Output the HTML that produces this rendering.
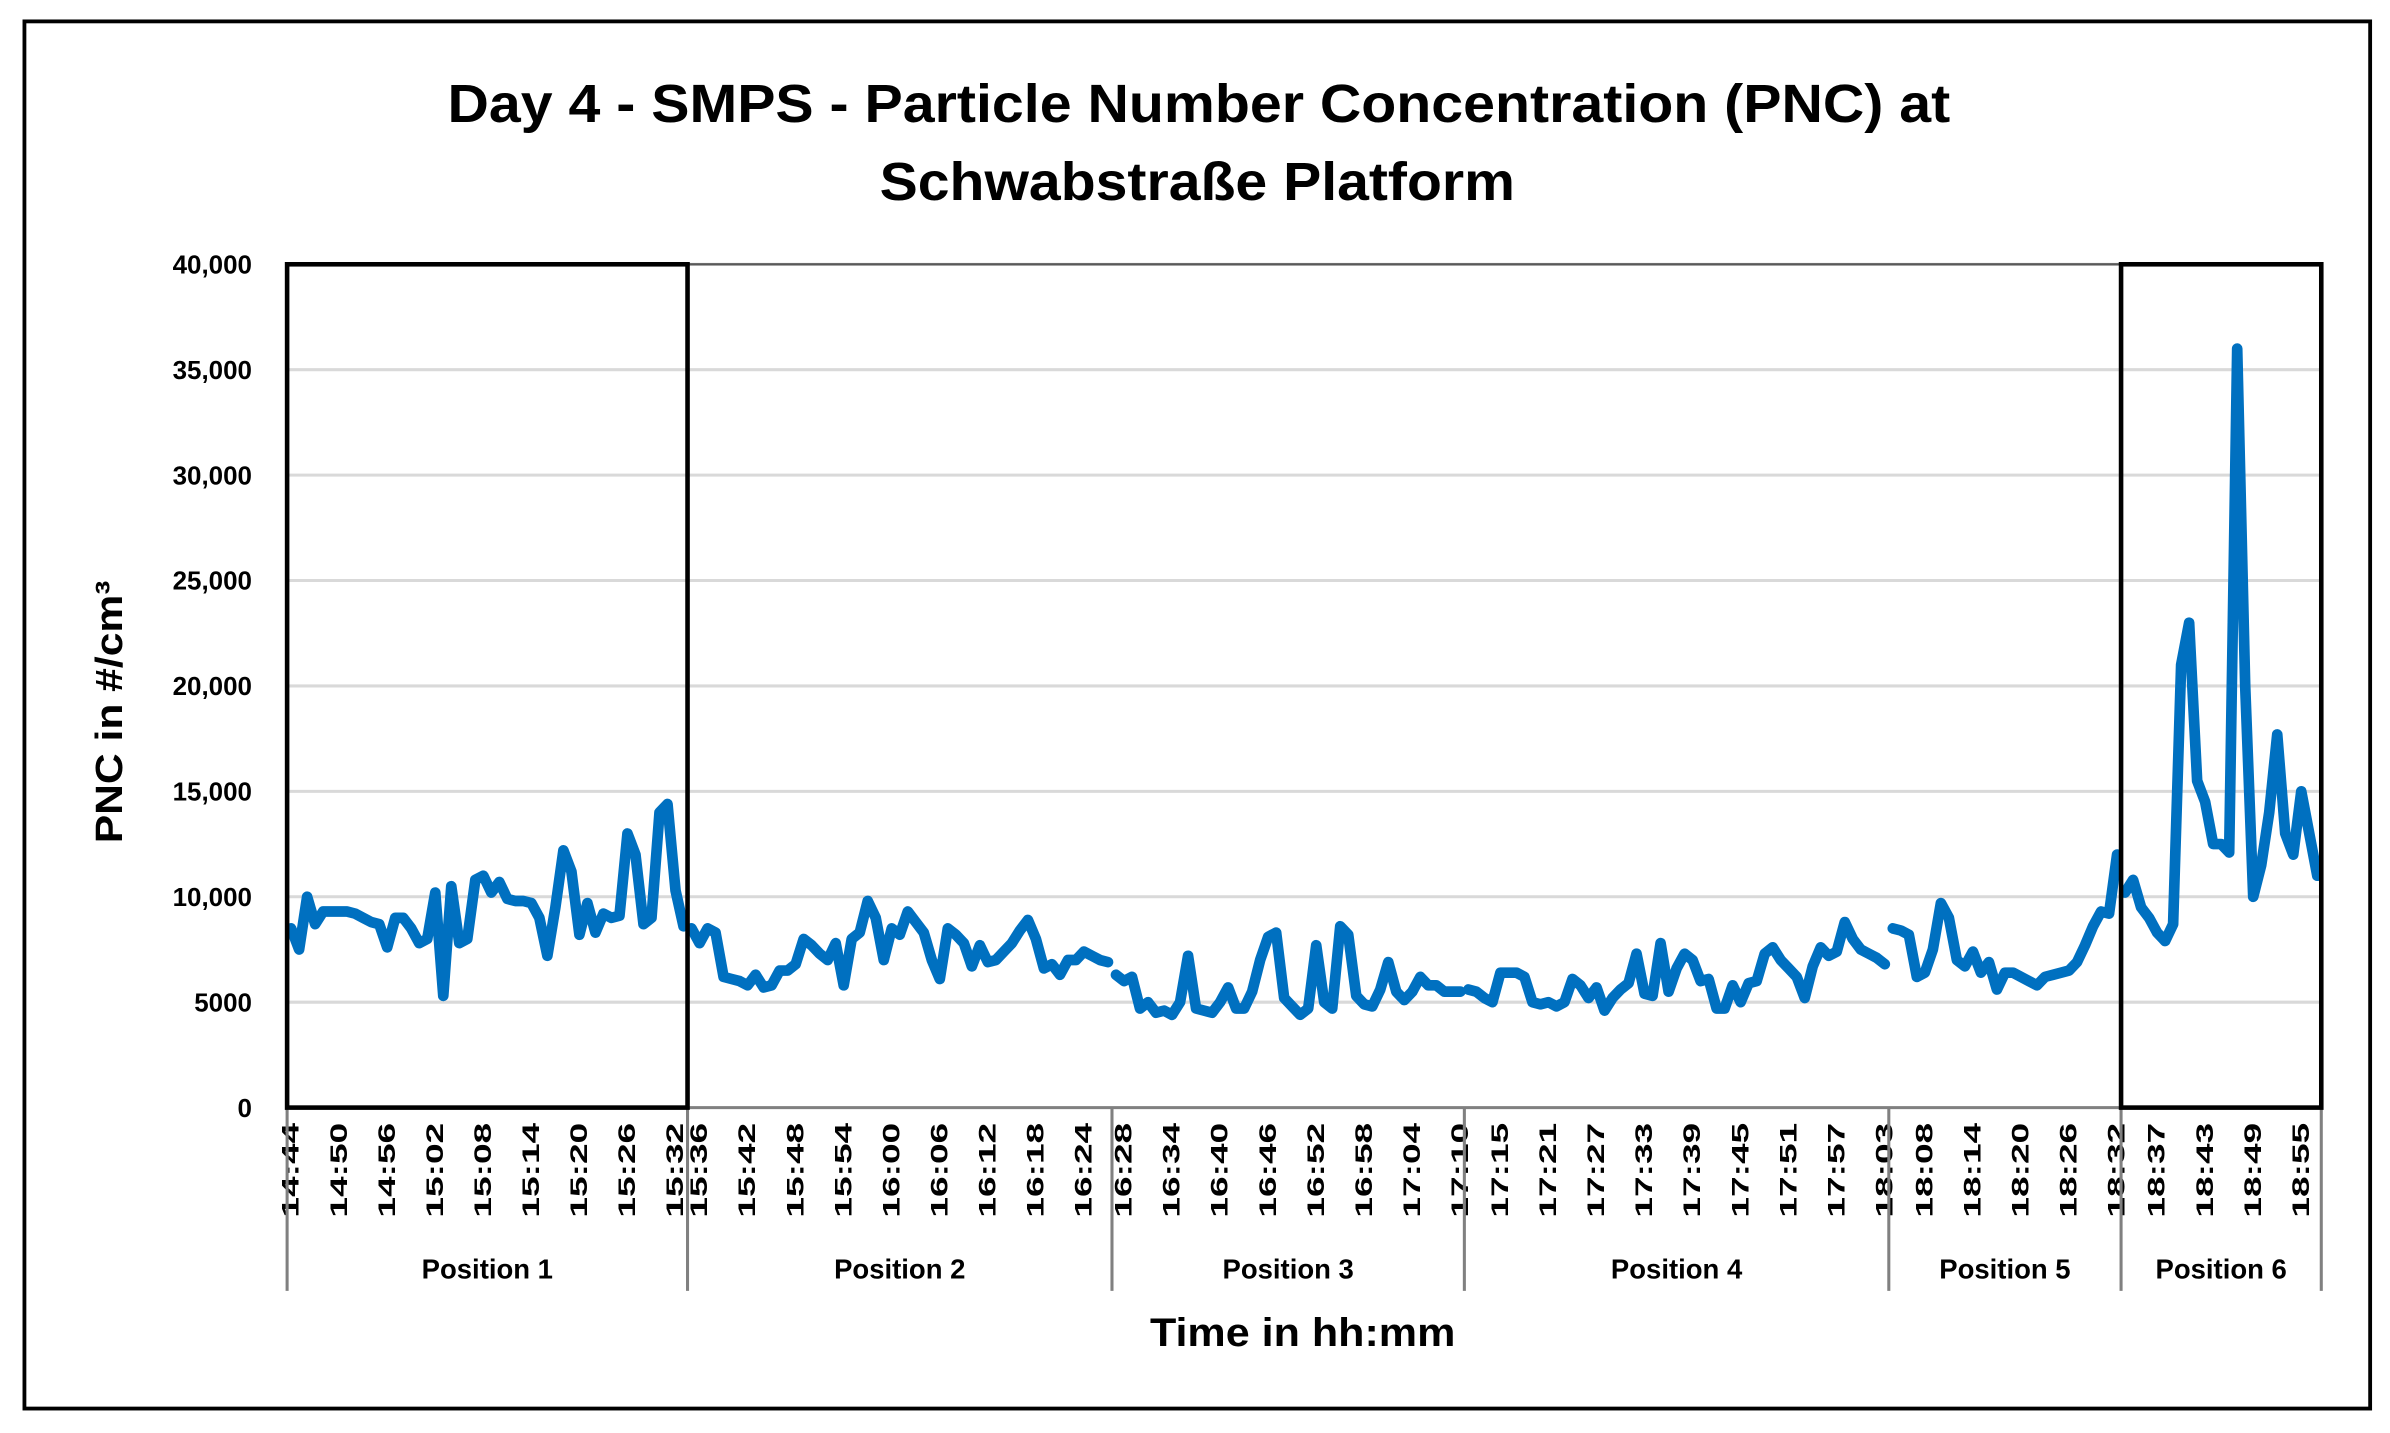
<!DOCTYPE html>
<html><head><meta charset="utf-8"><style>
html,body{margin:0;padding:0;background:#fff}
svg{display:block}
text{font-family:"Liberation Sans",sans-serif}
</style></head><body>
<svg id="chart" width="2390" height="1433" viewBox="0 0 1565 938" preserveAspectRatio="none" xmlns="http://www.w3.org/2000/svg">
<rect x="16" y="14" width="1536" height="908" fill="#fff" stroke="#000" stroke-width="2.5"/>
<text x="785" y="80" text-anchor="middle" font-size="35" font-weight="bold" textLength="984" lengthAdjust="spacingAndGlyphs">Day 4 - SMPS - Particle Number Concentration (PNC) at</text>
<text x="784" y="131" text-anchor="middle" font-size="35" font-weight="bold" textLength="416" lengthAdjust="spacingAndGlyphs">Schwabstraße Platform</text>
<g id="grid"></g>
<g id="yticks"></g>
<g id="xticks"></g>
<g id="lines"></g>
<g id="frames"></g>
<text transform="translate(80,466) rotate(-90)" text-anchor="middle" font-size="25" font-weight="bold" textLength="172" lengthAdjust="spacingAndGlyphs">PNC in #/cm³</text>
<text x="853" y="881" text-anchor="middle" font-size="26" font-weight="bold" textLength="200" lengthAdjust="spacingAndGlyphs">Time in hh:mm</text>
</svg>
<script>
const positionNames = ["Position 1","Position 2","Position 3","Position 4","Position 5","Position 6"];
const positionStarts = ["14:44","15:35","16:27","17:11","18:04","18:33"];
const positionFirstLabel = [0,1,1,4,4,4];
const yTicks = [0,5000,10000,15000,20000,25000,30000,35000,40000];
const yTickLabels = ["0","5000","10,000","15,000","20,000","25,000","30,000","35,000","40,000"];
const p1 = [8500,7500,10000,8700,9300,9300,9300,9300,9200,9000,8800,8700,7600,9000,9000,8500,7800,8000,10200,5300,10500,7800,8000,10800,11000,10200,10700,9900,9800,9800,9700,9000,7200,9500,12200,11200,8200,9700,8300,9200,9000,9100,13000,12000,8700,9000,14000,14400,10300,8600];
const p2 = [8500,7800,8500,8300,6200,6100,6000,5800,6300,5700,5800,6500,6500,6800,8000,7700,7300,7000,7800,5800,8000,8300,9800,9000,7000,8500,8200,9300,8800,8300,7000,6100,8500,8200,7800,6700,7700,6900,7000,7400,7800,8400,8900,8000,6600,6800,6300,7000,7000,7400,7200,7000,6900];
const p3 = [6300,6000,6200,4700,5000,4500,4600,4400,5000,7200,4700,4600,4500,5000,5700,4700,4700,5500,7000,8100,8300,5200,4800,4400,4700,7700,5000,4700,8600,8200,5300,4900,4800,5600,6900,5500,5100,5500,6200,5800,5800,5500,5500,5500];
const p4 = [5600,5500,5200,5000,6400,6400,6400,6200,5000,4900,5000,4800,5000,6100,5800,5200,5700,4600,5200,5600,5900,7300,5400,5300,7800,5500,6600,7300,7000,6000,6100,4700,4700,5800,5000,5900,6000,7300,7600,7000,6600,6200,5200,6700,7600,7200,7400,8800,8000,7500,7300,7100,6800];
const p5 = [8500,8400,8200,6200,6400,7500,9700,9000,7000,6700,7400,6400,6900,5600,6400,6400,6200,6000,5800,6200,6300,6400,6500,6900,7700,8600,9300,9200,12000];
const p6 = [10200,10800,9500,9000,8300,7900,8700,21000,23000,15500,14500,12500,12500,12100,36000,20000,10000,11500,14000,17700,13000,12000,15000,13000,11000];
const series = [p1,p2,p3,p4,p5,p6];

const NS = "http://www.w3.org/2000/svg";
const L = 188, R = 1520, T = 173, B = 725, YMAX = 40000;
const total = series.reduce((a, s) => a + s.length, 0);
const step = (R - L) / total;
const xEdge = i => L + i * step;
const xC = i => L + (i + 0.5) * step;
const yS = v => B - (v / YMAX) * (B - T);
function mk(tag, attrs, parent){const e=document.createElementNS(NS,tag);for(const k in attrs)e.setAttribute(k,attrs[k]);parent.appendChild(e);return e;}
function addMin(t, m){let [h,mm]=t.split(":").map(Number);let tot=h*60+mm+m;return Math.floor(tot/60)+":"+String(tot%60).padStart(2,"0");}

const grid = document.getElementById("grid");
const yt = document.getElementById("yticks");
yTicks.forEach((v, i) => {
  if (v > 0) {
    const g = mk("line",{x1:L,x2:R,y1:yS(v),y2:yS(v),stroke:"#d9d9d9","stroke-width":2},grid);
    
    
  }
  const t = mk("text",{x:165,y:yS(v)+6,"text-anchor":"end","font-size":17,"font-weight":"bold"},yt);
  t.textContent = yTickLabels[i];
  
  
});
const pa = mk("rect",{x:L,y:T,width:R-L,height:B-T,fill:"none",stroke:"#595959","stroke-width":1.5},grid);



const xt = document.getElementById("xticks");
const lines = document.getElementById("lines");
const frames = document.getElementById("frames");
let off = 0;
const boundaries = [0];
series.forEach((s, p) => {
  for (let k = positionFirstLabel[p]; k < s.length; k += 6) {
    const x = xC(off + k);
    const t = mk("text",{transform:`translate(${x+5},735) rotate(-90)`,"text-anchor":"end","font-size":15.5,"font-weight":"bold",textLength:62,lengthAdjust:"spacingAndGlyphs"},xt);
    t.textContent = addMin(positionStarts[p], k);
    
    
  }
  const pts = s.map((v, k) => xC(off + k).toFixed(2) + "," + yS(v).toFixed(2)).join(" ");
  const pl = mk("polyline",{points:pts,fill:"none",stroke:"#0070c0","stroke-width":7,"stroke-linejoin":"round","stroke-linecap":"round"},lines);
  
  
  const mid = (xEdge(off) + xEdge(off + s.length)) / 2;
  const lab = mk("text",{x:mid,y:837,"text-anchor":"middle","font-size":18,"font-weight":"bold"},xt);
  lab.textContent = positionNames[p];
  
  
  off += s.length;
  boundaries.push(off);
});
boundaries.forEach(b => {
  const ln = mk("line",{x1:xEdge(b),x2:xEdge(b),y1:B,y2:845,stroke:"#808080","stroke-width":2},xt);
  
  
});
const ax = mk("line",{x1:L,x2:R,y1:B,y2:B,stroke:"#808080","stroke-width":2},xt);


[[0,1],[5,6]].forEach(([a,b]) => {
  const r = mk("rect",{x:xEdge(boundaries[a]),y:T,width:xEdge(boundaries[b])-xEdge(boundaries[a]),height:B-T,fill:"none",stroke:"#000","stroke-width":3},frames);
  
  
});
</script>
</body></html>
